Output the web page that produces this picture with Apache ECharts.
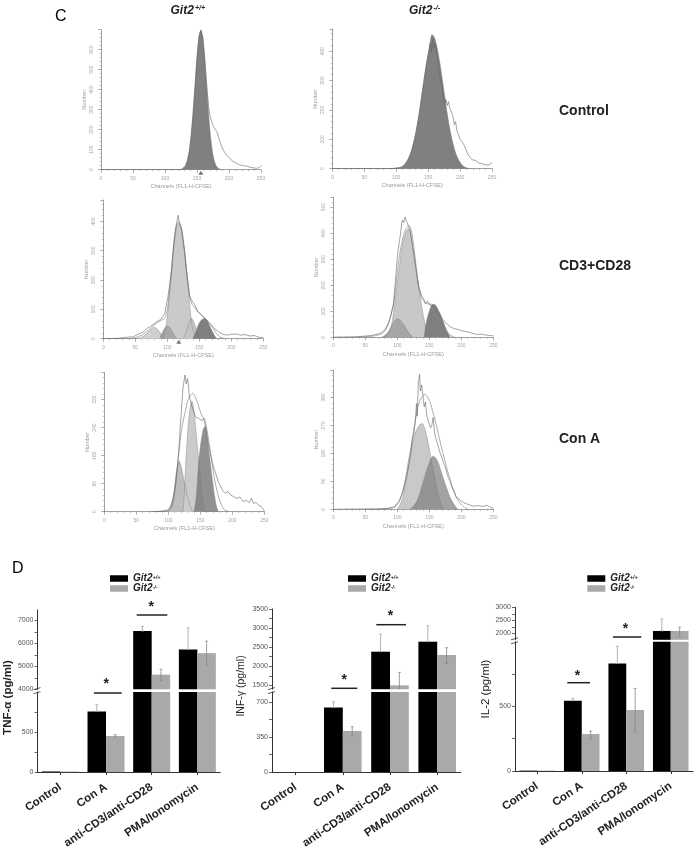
<!DOCTYPE html>
<html>
<head>
<meta charset="utf-8">
<style>html,body{margin:0;padding:0;background:#fff}#c{width:694px;height:851px}</style>
<script src="https://cdn.jsdelivr.net/npm/echarts@6/dist/echarts.min.js"></script>
</head>
<body>
<div id="c"></div>
<script>
// ---- histogram data: [channel, count] ----
var p1Fit=[[0,0],[120,0],[126,2],[129,8],[132,20],[135,46],[138,94],[141,174],[144,288],[147,423],[150,560],[153,663],[156,698],[159,663],[162,560],[165,423],[168,288],[171,174],[174,94],[177,46],[180,20],[183,8],[186,2],[190,0]];
var p1Data=[[0,0],[120,0],[126,2],[129,8],[132,20],[135,46],[138,94],[141,174],[144,288],[147,423],[150,560],[153,663],[156,698],[159,663],[162,560],[165,430],[168,320],[170,273],[173,240],[176,215],[179,205],[181,190],[184,160],[188,120],[191,98],[195,78],[201,57],[206,42],[212,32],[217,24],[222,20],[228,18],[233,12],[238,9],[243,7],[247,10],[251,23]];
var p2Fit=[[0,0],[90,0],[100,2],[108,5],[112,11],[116,22],[120,38],[124,61],[128,94],[132,136],[136,187],[140,247],[144,308],[148,365],[152,413],[156,456],[160,445],[164,413],[168,365],[172,308],[176,247],[180,187],[184,136],[188,94],[192,61],[196,38],[200,22],[204,11],[208,5],[212,2],[218,0]];
var p2Data=[[0,0],[90,0],[100,2],[108,5],[112,11],[116,22],[120,38],[124,61],[128,94],[132,136],[136,187],[140,247],[144,308],[148,365],[151,395],[153,425],[155,395],[157,440],[159,410],[161,425],[163,390],[165,375],[167,335],[169,310],[172,276],[174,240],[176,222],[178,235],[180,215],[182,228],[184,205],[187,190],[189,177],[191,150],[193,160],[195,131],[198,125],[200,100],[203,105],[205,86],[208,72],[210,60],[213,46],[216,52],[219,30],[221,24],[225,28],[228,20],[231,18],[236,16],[242,12],[246,14],[250,21]];
var p3Main=[[93,0],[96,22],[99,55],[102,120],[105,190],[108,262],[111,325],[114,372],[116,388],[118,393],[121,378],[124,340],[127,300],[130,235],[133,166],[136,92],[138,52],[141,22],[144,6],[147,0]];
var p3A=[[55,0],[60,5],[65,12],[70,22],[75,33],[79,39],[83,36],[87,25],[91,13],[96,0]];
var p3B=[[88,0],[92,20],[96,36],[100,43],[104,38],[108,24],[112,8],[115,0]];
var p3C=[[125,0],[129,20],[133,48],[138,69],[142,55],[146,25],[151,0]];
var p3D=[[140,0],[144,20],[148,45],[153,63],[158,70],[162,62],[166,45],[170,26],[174,10],[177,0]];
var p3Fit=[[0,0],[40,0],[50,4],[60,12],[70,28],[80,48],[90,62],[96,70],[100,100],[105,190],[110,320],[114,385],[118,400],[122,375],[126,310],[130,225],[134,160],[138,120],[143,105],[148,92],[153,80],[158,72],[164,58],[170,40],[176,20],[182,6],[190,0]];
var p3Data=[[0,0],[20,1],[47,7],[55,16],[62,22],[68,35],[74,42],[79,50],[83,58],[87,62],[91,69],[96,86],[101,143],[104,190],[107,245],[110,320],[112,359],[115,400],[117,421],[119,395],[121,399],[123,370],[125,336],[128,280],[130,234],[133,180],[135,143],[139,128],[143,115],[148,92],[153,82],[159,69],[164,58],[169,47],[174,34],[180,24],[186,16],[193,12],[200,15],[208,16],[215,12],[222,14],[229,9],[236,11],[243,5],[250,3]];
var p4Main=[[78,0],[84,8],[88,24],[92,60],[96,130],[99,190],[102,245],[105,305],[108,355],[112,395],[115,412],[118,417],[121,400],[124,355],[127,300],[130,245],[133,200],[136,150],[139,105],[143,55],[147,22],[151,0]];
var p4A=[[75,0],[80,6],[85,18],[90,38],[95,60],[100,71],[105,65],[110,48],[115,28],[120,10],[125,0]];
var p4D=[[142,0],[144,40],[147,75],[150,100],[153,120],[156,127],[160,123],[164,105],[168,85],[172,58],[176,32],[180,12],[183,0]];
var p4Fit=[[0,0],[40,1],[60,4],[72,10],[80,22],[86,50],[90,85],[94,125],[98,205],[102,290],[106,350],[110,395],[114,420],[118,430],[122,410],[126,345],[130,260],[134,190],[138,150],[143,135],[148,128],[154,127],[160,118],[166,90],[172,55],[178,22],[184,6],[190,0]];
var p4Data=[[0,0],[30,1],[42,3],[60,7],[73,15],[80,28],[86,54],[90,85],[94,130],[97,215],[100,308],[103,365],[105,397],[107,440],[108,451],[110,440],[112,462],[115,464],[117,430],[120,410],[124,345],[128,283],[131,235],[133,200],[136,175],[138,160],[141,149],[144,128],[147,140],[151,124],[156,118],[160,105],[164,92],[170,72],[174,60],[177,54],[182,42],[188,34],[195,30],[202,24],[208,22],[215,17],[224,11],[232,12],[240,8],[250,6]];
var p5A=[[100,0],[104,18],[108,48],[112,105],[115,135],[117,145],[120,130],[124,95],[128,58],[132,28],[135,12],[138,0]];
var p5B=[[123,0],[125,50],[127,130],[129,190],[131,245],[134,295],[137,316],[140,290],[143,235],[146,175],[149,120],[152,60],[155,18],[157,0]];
var p5C=[[140,0],[143,30],[145,75],[147,130],[150,185],[154,230],[157,243],[160,225],[163,180],[166,135],[169,90],[172,48],[175,18],[178,0]];
var p5Fit=[[70,0],[95,1],[100,5],[105,22],[110,60],[116,162],[120,225],[123,257],[127,290],[130,314],[134,330],[138,338],[141,332],[144,319],[148,298],[152,276],[157,262],[161,228],[165,181],[169,130],[173,86],[177,52],[181,29],[185,12],[188,5],[195,0]];
var p5Data=[[76,0],[90,2],[100,5],[105,12],[108,29],[112,85],[116,162],[119,250],[121,305],[123,355],[126,390],[128,365],[130,380],[131,367],[133,330],[136,305],[139,290],[143,270],[147,267],[150,272],[153,260],[155,267],[158,245],[160,219],[163,190],[165,172],[168,148],[171,125],[174,110],[178,86],[181,75],[185,60],[189,52],[193,58],[197,48],[202,43],[207,38],[212,42],[217,29],[222,33],[226,26],[230,38],[233,24],[237,26],[241,19],[245,15],[248,8],[250,2]];
var p6A=[[100,0],[104,14],[108,34],[112,72],[116,120],[120,170],[124,215],[128,245],[132,262],[136,274],[139,276],[142,265],[146,235],[150,195],[154,150],[158,105],[162,65],[166,32],[169,12],[172,0]];
var p6B=[[120,0],[125,10],[130,24],[135,50],[140,85],[145,120],[150,150],[154,168],[156,171],[160,165],[164,150],[168,125],[172,100],[176,75],[180,52],[184,32],[188,18],[192,6],[195,0]];
var p6Fit=[[50,0],[85,2],[96,7],[104,28],[112,89],[117,150],[122,207],[127,270],[133,335],[138,360],[143,370],[147,362],[151,346],[156,310],[161,271],[166,225],[172,175],[177,135],[182,100],[187,65],[193,35],[198,20],[203,9],[210,0]];
var p6Data=[[0,0],[30,1],[68,1],[85,3],[96,9],[103,28],[109,57],[115,110],[120,164],[124,230],[126,245],[128,282],[130,340],[131,300],[133,410],[135,434],[136,380],[138,400],[140,367],[142,330],[144,345],[146,303],[149,280],[152,262],[154,271],[156,295],[158,250],[159,239],[162,215],[165,195],[167,180],[170,165],[172,150],[174,142],[177,120],[180,100],[183,88],[185,73],[189,58],[192,40],[195,35],[198,30],[203,22],[208,18],[213,14],[220,10],[227,12],[234,9],[240,13],[245,7],[250,3]];

// ---- bar data ----
var categories=['Control','Con A','anti-CD3/anti-CD28','PMA/Ionomycin'];
var wtName='Git2+/+', koName='Git2-/-';
var tnfWt=[8,758,6533,5732], tnfKo=[8,450,4640,5572];
var tnfWtHi=[8,842,6737,6678], tnfKoLo=[8,440,4378,5048], tnfKoHi=[8,467,4873,6096];
var infWt=[0,644,2382,2644], infKo=[0,411,1500,2295];
var infWtHi=[0,703,2845,3063], infKoLo=[0,365,1400,2076], infKoHi=[0,454,1840,2487];
var il2Wt=[3,544,832,2090], il2Ko=[3,286,472,2090];
var il2WtHi=[3,562,966,2551], il2KoLo=[3,253,304,1872], il2KoHi=[3,309,639,2231];

// ---- tick labels ----
var tnfUpperLabels=[4000,5000,6000,7000], tnfLowerLabels=[0,500];
var infUpperLabels=[1500,2000,2500,3000,3500], infLowerLabels=[0,350,700];
var il2UpperLabels=[2000,2500,3000], il2LowerLabels=[0,500];
var tnfUpperTicks=[4000,4500,5000,5500,6000,6500,7000], tnfLowerTicks=[0,250,500,750];
var infUpperTicks=[1500,1750,2000,2250,2500,2750,3000,3250,3500], infLowerTicks=[0,175,350,525,700];
var il2UpperTicks=[2000,2250,2500,2750,3000], il2LowerTicks=[0,250,500,750];

// ---- layout ----
var histPanels=[
 {l:101,r:261,t:29.7,b:169.7,max:700,step:100,series:[['f',p1Fit,'#808080'],['l',p1Data]],tri:156},
 {l:332.3,r:492,t:29,b:168.7,max:475,step:100,series:[['f',p2Fit,'#808080'],['l',p2Data]]},
 {l:103.3,r:263.3,t:200,b:338.7,max:473,step:100,series:[['f',p3A,'#d0d0d0'],['f',p3Main,'#cacaca'],['f',p3B,'#a8a8a8'],['f',p3C,'#c4c4c4'],['f',p3D,'#808080'],['w',p3Fit],['l',p3Data]],tri:118},
 {l:333.3,r:493.3,t:197.3,b:337.3,max:538,step:100,series:[['f',p4Main,'#c8c8c8'],['f',p4A,'#a6a6a6'],['f',p4D,'#808080'],['w',p4Fit],['l',p4Data]]},
 {l:104.3,r:264.3,t:372.3,b:511.7,max:398,step:80,series:[['f',p5A,'#bdbdbd'],['f',p5B,'#cbcbcb'],['f',p5C,'#7c7c7c',0.85],['w',p5Fit],['l',p5Data]]},
 {l:333.3,r:493.3,t:370,b:509.3,max:448,step:90,series:[['f',p6A,'#c9c9c9'],['f',p6B,'#808080',0.72],['w',p6Fit],['l',p6Data]]}
];
var barPanels=[
 {l:37.5,w:182.7,upT:610,upB:689.3,loT:692,loB:772.3,upMin:4000,upMax:7450,loMax:1000,bw:18.5,wt:tnfWt,ko:tnfKo,wh:tnfWtHi,kl:tnfKoLo,kh:tnfKoHi,upL:tnfUpperLabels,loL:tnfLowerLabels,upTk:tnfUpperTicks,loTk:tnfLowerTicks,legL:110},
 {l:272,w:188.8,upT:609,upB:689.2,loT:692,loB:772.3,upMin:1400,upMax:3500,loMax:800,bw:18.8,wt:infWt,ko:infKo,wh:infWtHi,kl:infKoLo,kh:infKoHi,upL:infUpperLabels,loL:infLowerLabels,upTk:infUpperTicks,loTk:infLowerTicks,legL:348},
 {l:515,w:178,upT:607.3,upB:639.8,loT:641.8,loB:771,upMin:1750,upMax:3000,loMax:1000,bw:17.8,wt:il2Wt,ko:il2Ko,wh:il2WtHi,kl:il2KoLo,kh:il2KoHi,upL:il2UpperLabels,loL:il2LowerLabels,upTk:il2UpperTicks,loTk:il2LowerTicks,legL:587.3}
];
var sigMarks=[[94,121.7,693,107,684],[136.7,167.3,615,152,607],[331.3,357.3,688.3,345,680.5],[376.3,406,624.7,391.3,616],[567.3,590,682.7,578.3,676],[613,641.3,637,626.3,629]];
var FONT='"Liberation Sans",Arial,sans-serif';

var grid=[],xAxis=[],yAxis=[],series=[],legend=[],graphic=[];

histPanels.forEach(function(p){
  var g=grid.length;
  grid.push({left:p.l,top:p.t,width:p.r-p.l,height:p.b-p.t});
  xAxis.push({type:'value',gridIndex:g,min:0,max:250,interval:50,splitLine:{show:false},
    name:'Channels (FL1-H-CFSE)',nameLocation:'middle',nameGap:14,nameTextStyle:{fontSize:5.6,color:'#9a9a9a',fontFamily:FONT},
    axisLine:{show:true,onZero:false,lineStyle:{color:'#777',width:.7}},axisTick:{show:true,length:3,lineStyle:{color:'#777',width:.6}},
    minorTick:{show:true,splitNumber:5,length:1.5,lineStyle:{color:'#888',width:.5}},minorSplitLine:{show:false},
    axisLabel:{fontSize:5,color:'#a5a5a5',margin:6,fontFamily:FONT}});
  yAxis.push({type:'value',gridIndex:g,min:0,max:p.max,interval:p.step,splitLine:{show:false},
    name:'Number',nameLocation:'middle',nameGap:14,nameTextStyle:{fontSize:5.6,color:'#9a9a9a',fontFamily:FONT},
    axisLine:{show:true,lineStyle:{color:'#777',width:.7}},axisTick:{show:true,length:3,lineStyle:{color:'#777',width:.6}},
    minorTick:{show:true,splitNumber:5,length:1.5,lineStyle:{color:'#888',width:.5}},
    axisLabel:{fontSize:5,color:'#a5a5a5',margin:7,rotate:90,showMaxLabel:false,fontFamily:FONT,align:'center',verticalAlign:'bottom'}});
  p.series.forEach(function(s){
    var o={type:'line',xAxisIndex:g,yAxisIndex:g,data:s[1],showSymbol:false,silent:true,animation:false,smooth:false};
    if(s[0]==='f'){o.smooth=0.25;o.lineStyle={color:'#777',width:.4};o.areaStyle={color:s[2],opacity:s[3]||1};}
    else if(s[0]==='w'){o.smooth=0.25;o.lineStyle={color:'#8a8a8a',width:.7};}
    else {o.lineStyle={color:'#666',width:.6};}
    series.push(o);
  });
  if(p.tri){series.push({type:'scatter',xAxisIndex:g,yAxisIndex:g,data:[[p.tri,0]],symbol:'triangle',symbolSize:[5,4],symbolOffset:[0,3],clip:false,silent:true,animation:false,itemStyle:{color:'#555'}});}
});

function errItem(off,col){
  return function(params,api){
    var a=api.coord([api.value(0),api.value(1)]),b=api.coord([api.value(0),api.value(2)]);
    var x=a[0]+off;
    return {type:'group',children:[
      {type:'line',shape:{x1:x,y1:a[1],x2:x,y2:b[1]},style:{stroke:col,lineWidth:.8}},
      {type:'line',shape:{x1:x-1.5,y1:b[1],x2:x+1.5,y2:b[1]},style:{stroke:col,lineWidth:.7}},
      {type:'line',shape:{x1:x-1.5,y1:a[1],x2:x+1.5,y2:a[1]},style:{stroke:col,lineWidth:.7}}
    ]};
  };
}

barPanels.forEach(function(p){
  [['up',p.upT,p.upB],['lo',p.loT,p.loB]].forEach(function(part){
    var isUp=part[0]==='up',g=grid.length;
    grid.push({left:p.l,width:p.w,top:part[1],height:part[2]-part[1]});
    xAxis.push({type:'category',gridIndex:g,data:categories,show:!isUp,
      axisLine:{show:!isUp,lineStyle:{color:'#333',width:1}},
      axisTick:{show:!isUp,alignWithLabel:true,length:3,lineStyle:{color:'#333',width:1}},
      axisLabel:{show:!isUp,interval:0,rotate:34,margin:14,fontSize:11.5,fontWeight:'bold',color:'#222',fontFamily:FONT}});
    yAxis.push({type:'value',gridIndex:g,min:isUp?p.upMin:0,max:isUp?p.upMax:p.loMax,splitLine:{show:false},
      axisLine:{show:true,onZero:false,lineStyle:{color:'#333',width:1}},
      axisTick:{show:true,length:3,customValues:isUp?p.upTk:p.loTk,lineStyle:{color:'#444',width:.8}},
      axisLabel:{fontSize:7,color:'#555',margin:4,customValues:isUp?p.upL:p.loL,fontFamily:FONT,formatter:function(v){return String(v);}}});
    var base={xAxisIndex:g,yAxisIndex:g,silent:true,animation:false};
    series.push(Object.assign({type:'bar',name:wtName,data:p.wt,barWidth:p.bw,barGap:'0%',itemStyle:{color:'#000'}},base));
    series.push(Object.assign({type:'bar',name:koName,data:p.ko,barWidth:p.bw,barGap:'0%',itemStyle:{color:'#a9a9a9'}},base));
    series.push(Object.assign({type:'custom',clip:true,z:5,encode:{x:0,y:[1,2]},renderItem:errItem(-p.bw/2,'#a0a0a0'),
      data:categories.map(function(c,i){return [i,p.wt[i],p.wh[i]];}).filter(function(d){return d[2]>d[1];})},base));
    series.push(Object.assign({type:'custom',clip:true,z:5,encode:{x:0,y:[1,2]},renderItem:errItem(p.bw/2,'#868686'),
      data:categories.map(function(c,i){return [i,p.kl[i],p.kh[i]];}).filter(function(d){return d[2]>d[1];})},base));
  });
  legend.push({left:p.legL,top:573.5,orient:'vertical',padding:0,itemGap:0,itemWidth:18,itemHeight:6.5,icon:'rect',
    data:[wtName,koName],selectedMode:false,
    formatter:function(n){return '{i|Git2}{s|'+n.slice(4)+'}';},
    textStyle:{rich:{i:{fontSize:10,fontStyle:'italic',fontWeight:'bold',color:'#222',fontFamily:FONT,lineHeight:8},
                     s:{fontSize:5.5,fontStyle:'italic',fontWeight:'bold',color:'#222',fontFamily:FONT,verticalAlign:'top',lineHeight:8}}}});
  var mid=(p.upB+p.loT)/2;
  [-2,2].forEach(function(d){
    graphic.push({type:'line',shape:{x1:p.l-4,y1:mid+d+1,x2:p.l+3,y2:mid+d-1},style:{stroke:'#333',lineWidth:.8},silent:true});
  });
});

sigMarks.forEach(function(m){
  graphic.push({type:'line',shape:{x1:m[0],y1:m[2],x2:m[1],y2:m[2]},style:{stroke:'#222',lineWidth:1.5},silent:true});
  graphic.push({type:'text',left:m[3]-3.5,top:m[4]-7,silent:true,style:{text:'*',fontSize:14,fontWeight:'bold',fill:'#222',font:'bold 14px '+FONT}});
});

function txt(text,x,y,font,fill,rot){
  var o={type:'text',x:x,y:y,silent:true,style:{text:text,font:font,fill:fill||'#222',textAlign:rot?'center':'left',textVerticalAlign:'middle'}};
  if(rot){o.rotation=rot;}
  graphic.push(o);
}
txt('C',55,17,'16px '+FONT,'#000');
txt('D',12,569,'16px '+FONT,'#000');
txt('Control',559,111,'bold 14px '+FONT);
txt('CD3+CD28',559,266,'bold 14px '+FONT);
txt('Con A',559,439,'bold 14px '+FONT);
txt('Git2',170.5,11,'italic bold 12px '+FONT);
txt('+/+',195,8,'italic bold 7px '+FONT);
txt('Git2',409,11,'italic bold 12px '+FONT);
txt('-/-',433.5,8,'italic bold 7px '+FONT);
txt('TNF-\u03b1 (pg/ml)',7.5,697.5,'bold 11.5px '+FONT,'#222',Math.PI/2);
txt('INF-\u03b3 (pg/ml)',241.5,686,'10.5px '+FONT,'#222',Math.PI/2);
txt('IL-2 (pg/ml)',485.5,689,'11.5px '+FONT,'#222',Math.PI/2);

var chart=echarts.init(document.getElementById('c'),null,{renderer:'canvas'});
chart.setOption({animation:false,backgroundColor:'#fff',grid:grid,xAxis:xAxis,yAxis:yAxis,series:series,legend:legend,graphic:{elements:graphic}});
</script>
</body>
</html>
